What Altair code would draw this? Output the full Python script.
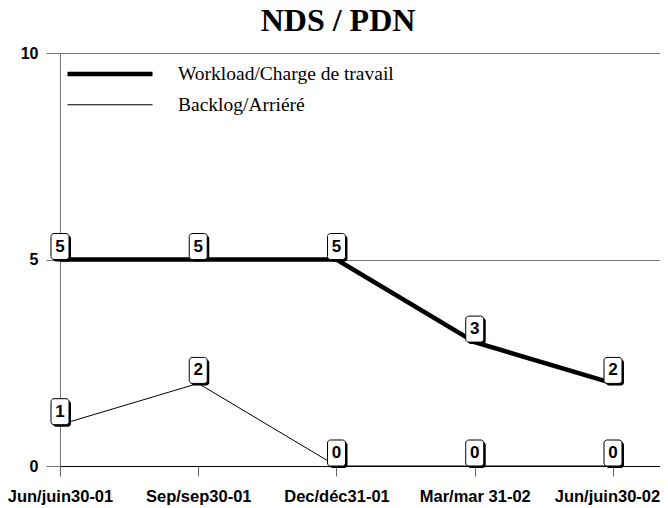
import altair as alt
import pandas as pd

dates = ["Jun/juin30-01", "Sep/sep30-01", "Dec/déc31-01", "Mar/mar 31-02", "Jun/juin30-02"]
workload = [5, 5, 5, 3, 2]
backlog = [1, 2, 0, 0, 0]
series_names = ["Workload/Charge de travail", "Backlog/Arriéré"]

rows = []
for i, d in enumerate(dates):
    rows.append({"idx": i, "date": d, "series": series_names[0], "value": workload[i]})
    rows.append({"idx": i, "date": d, "series": series_names[1], "value": backlog[i]})
df = pd.DataFrame(rows)

last_idx = len(dates) - 1
label_expr = "[" + ",".join("'" + d + "'" for d in dates) + "][datum.value]"

x = alt.X("idx:Q",
          scale=alt.Scale(domain=[0, 4.34], nice=False, zero=False),
          axis=alt.Axis(values=list(range(len(dates))), labelExpr=label_expr, title=None,
                        grid=False, domain=True, domainColor="#000", domainWidth=1,
                        ticks=True, tickColor="#666", tickSize=10, labelPadding=12,
                        labelFont="Liberation Sans", labelFontSize=16.5, labelColor="#000",
                        labelFontWeight="bold", labelOverlap=False, labelFlush=False,
                        labelOffset={"expr": f"datum.value == {last_idx} ? -6 : 0"}))
y = alt.Y("value:Q",
          scale=alt.Scale(domain=[0, 10], nice=False),
          axis=alt.Axis(values=[0, 5, 10], title=None, grid=True, gridColor="#777",
                        gridWidth=1, domain=True, domainColor="#777", ticks=True,
                        tickColor="#777", tickSize=14, labelPadding=8,
                        labelFont="Liberation Sans", labelFontSize=16, labelFontWeight="bold",
                        labelColor="#000", labelFlush=False))

base = alt.Chart(df)

lines = base.mark_line(color="black").encode(
    x=x, y=y,
    strokeWidth=alt.StrokeWidth("series:N",
        scale=alt.Scale(domain=series_names, range=[4.5, 1]),
        legend=alt.Legend(title=None, orient="none", legendX=39, legendY=10,
                          symbolType="M-5,0H5", symbolSize=289, symbolStrokeColor="black",
                          labelFont="Liberation Serif", labelFontSize=19.5, labelColor="#000",
                          labelOffset=57, rowPadding=10, padding=0,
                          labelLimit=400)),
    detail="series:N",
)

shadow = base.mark_rect(color="black", width=18, height=26, cornerRadius=3,
                        xOffset=2, yOffset=-11).encode(x="idx:Q", y="value:Q")
box = base.mark_rect(color="white", stroke="black", strokeWidth=1, width=18, height=26,
                     cornerRadius=3, yOffset=-13).encode(x="idx:Q", y="value:Q")
txt = base.mark_text(font="Liberation Sans", fontSize=17, fontWeight="bold", color="black",
                     yOffset=-13, baseline="middle", align="center").encode(
    x="idx:Q", y="value:Q", text="value:Q")

chart = alt.layer(lines, shadow, box, txt).properties(
    width=600, height=413,
    autosize=alt.AutoSizeParams(type="none"),
    padding={"left": 52, "top": 45, "right": 0, "bottom": 41},
    title=alt.TitleParams("NDS / PDN", font="Liberation Serif", fontSize=32,
                          fontWeight="bold", color="#000", anchor="middle",
                          dx=-22, offset=7),
).configure_view(stroke=None).configure(background="white")

chart.save("out.html", embed_options={"renderer": "svg", "actions": False})
